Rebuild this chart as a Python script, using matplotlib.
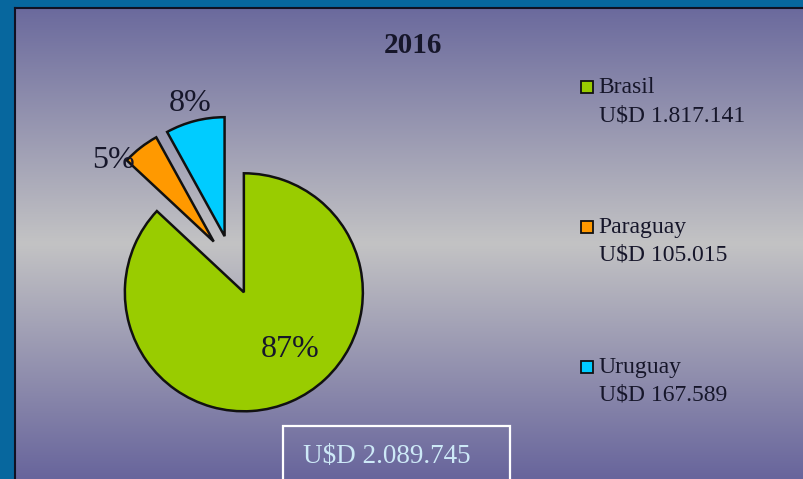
import numpy as np
import matplotlib
matplotlib.use("Agg")
import matplotlib.pyplot as plt
from matplotlib.patches import Rectangle
from matplotlib.colors import LinearSegmentedColormap

plt.rcParams["font.family"] = ["Liberation Serif", "DejaVu Serif"]

# export values per country, 2016
countries = ["Brasil", "Paraguay", "Uruguay"]
values = [1817141, 105015, 167589]
colors = ["#99cc00", "#ff9900", "#00ccff"]
title = "2016"

W, H = 804, 479
INK = "#16162a"


def money(v):
    return "U$D " + f"{v:,}".replace(",", ".")


fig = plt.figure(figsize=(W / 100, H / 100), dpi=100)
fig.patch.set_facecolor("#07679e")
ax = fig.add_axes([0, 0, 1, 1])

# panel background: purple at the edges, grey in the middle
grad = LinearSegmentedColormap.from_list(
    "panel", [(0.0, "#6b6a9d"), (0.5, "#c3c3c4"), (1.0, "#68659c")])
ax.imshow(np.linspace(0, 1, 256).reshape(-1, 1), cmap=grad, aspect="auto",
          extent=[16, W, 0, H - 8], origin="upper", zorder=0)
ax.plot([15.5, 15.5], [0, H - 7.5], color="#111122", lw=1.5, zorder=1)
ax.plot([15.5, W], [H - 7.5, H - 7.5], color="#111122", lw=1.5, zorder=1)

# pie, every slice pulled out a quarter radius
radius = 119
center = (232, 214)
wedges, _ = ax.pie(values, colors=colors, startangle=90, counterclock=False,
                   radius=radius, center=center,
                   explode=[0.25 * radius] * len(values),
                   wedgeprops=dict(edgecolor="#111111", linewidth=1.8))
for w in wedges:
    w.set_zorder(2)

# percentage labels placed along each slice's bisector
total = sum(values)
lab_r = [0.865, 1.33, 1.40]
lab_shift = [11, 10.6, 0]
for w, v, rr, sh in zip(wedges, values, lab_r, lab_shift):
    ang = np.deg2rad((w.theta1 + w.theta2) / 2 + sh)
    ax.text(center[0] + rr * radius * np.cos(ang),
            center[1] + rr * radius * np.sin(ang),
            f"{round(100 * v / total)}%", ha="center", va="center",
            fontsize=23, color=INK, zorder=3)

ax.text(413, 426, title, ha="center", va="baseline", fontsize=21,
        fontweight="bold", color=INK)

# legend, one entry every 140 px
for i, (name, v, c) in enumerate(zip(countries, values, colors)):
    y0 = 386 - 140 * i
    ax.add_patch(Rectangle((581, y0), 12, 12, facecolor=c,
                           edgecolor="#111111", lw=1.3, zorder=3))
    ax.text(598, y0, name, ha="left", va="baseline", fontsize=17, color=INK)
    ax.text(599, y0 - 28, money(v), ha="left", va="baseline", fontsize=17,
            color=INK)

# total in a framed box at the bottom
ax.add_patch(Rectangle((283, -5), 227, 58, facecolor="none",
                       edgecolor="white", lw=1.6, zorder=3))
ax.text(303, 16, money(total), ha="left", va="baseline", fontsize=19.5,
        color="#cde9f7", zorder=4)

ax.set_xlim(0, W)
ax.set_ylim(0, H)
ax.set_aspect("auto")
ax.axis("off")

fig.savefig("out.png", dpi=100, facecolor=fig.get_facecolor())
